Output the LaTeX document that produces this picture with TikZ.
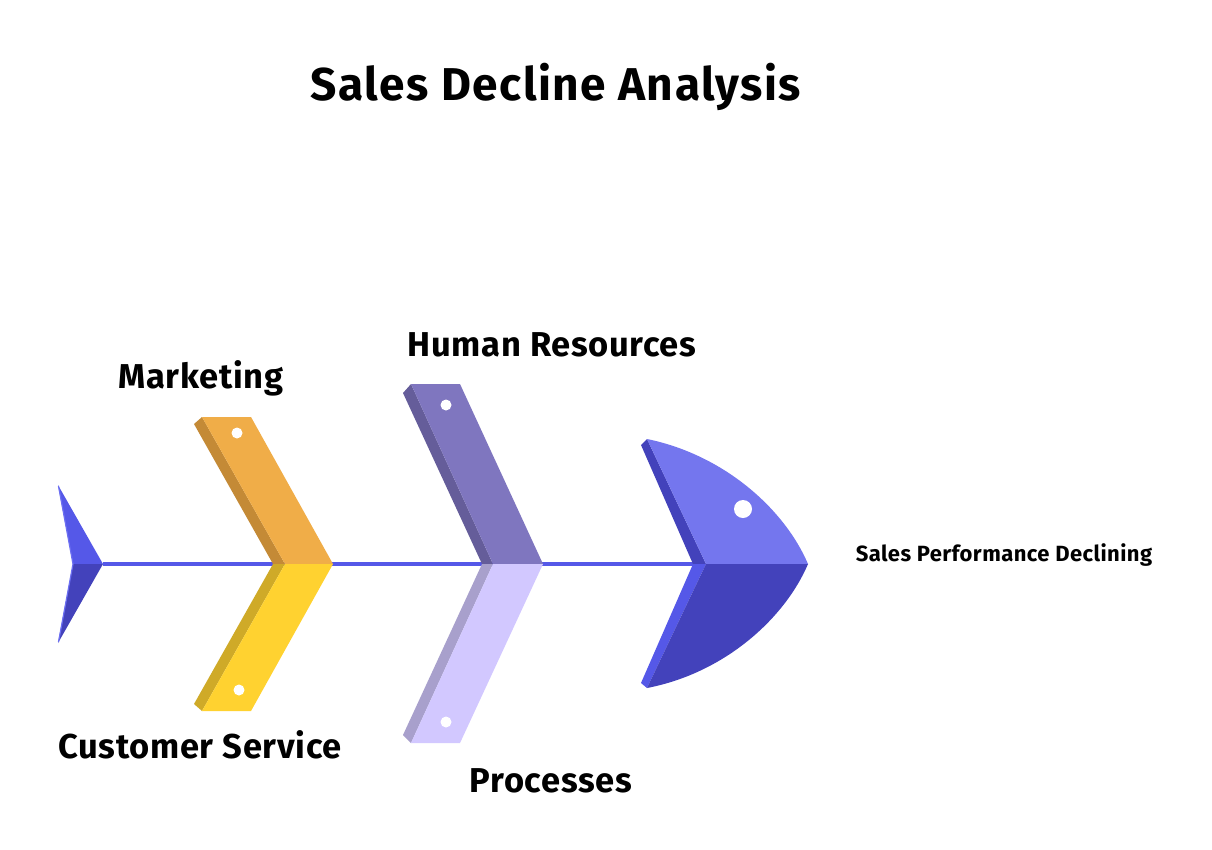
\documentclass[tikz,border=0pt]{standalone}
\usepackage{fontspec}
\setmainfont{Fira Sans}[LetterSpace=2]
\definecolor{spinec}{HTML}{5558E8}
\definecolor{headup}{HTML}{7476EE}
\definecolor{headdn}{HTML}{4342BB}
\definecolor{orgface}{HTML}{F0AD48}
\definecolor{orgside}{HTML}{C48A36}
\definecolor{yelface}{HTML}{FFD230}
\definecolor{yelside}{HTML}{CFAA28}
\definecolor{purface}{HTML}{7F76BF}
\definecolor{purside}{HTML}{655D9A}
\definecolor{lavface}{HTML}{D2C8FF}
\definecolor{lavside}{HTML}{A8A0CC}
\definecolor{tailedge}{HTML}{6C6FF2}
\begin{document}
\begin{tikzpicture}[x=1pt,y=-1pt,
  lbl/.style={font=\bfseries\fontsize{34.5}{38}\selectfont, anchor=base, inner sep=0pt, text=black},
  titlestyle/.style={font=\bfseries\fontsize{46}{50}\selectfont\addfontfeature{LetterSpace=3.2}, anchor=base, inner sep=0pt, text=black},
  effectstyle/.style={font=\bfseries\fontsize{22}{25}\selectfont, anchor=base, inner sep=0pt, text=black},
  hole/.style={fill=white, draw=none}]
\useasboundingbox[fill=white] (0,0) rectangle (1212,849);

% spine
\coordinate (tailR) at (103,564);
\coordinate (headN) at (700,564);
\draw[spinec, line width=4.5pt] (tailR) -- (headN);

% tail
\fill[spinec] (58,485) -- (103,564) -- (73,564) -- cycle;
\fill[headdn] (73,564) -- (103,564) -- (58,643) -- cycle;
\draw[tailedge, line width=1.2pt] (58.5,486) -- (73,564) -- (58.5,642);

% Marketing bone (orange)
\fill[orgside] (202,417) -- (194,424) -- (273,564) -- (285,564) -- cycle;
\fill[orgface] (202,417) -- (251,417) -- (333,564) -- (285,564) -- cycle;
\fill[hole] (237,433) circle[radius=5.5pt];

% Customer Service bone (yellow)
\fill[yelside] (273,564) -- (285,564) -- (202,711) -- (194,704) -- cycle;
\fill[yelface] (285,564) -- (333,564) -- (251,711) -- (202,711) -- cycle;
\fill[hole] (239,690) circle[radius=5.5pt];

% Human Resources bone (purple)
\fill[purside] (411,384) -- (403,393) -- (482,564) -- (493,564) -- cycle;
\fill[purface] (411,384) -- (460,384) -- (543,564) -- (493,564) -- cycle;
\fill[hole] (446,405) circle[radius=5.5pt];

% Processes bone (lavender)
\fill[lavside] (482,564) -- (493,564) -- (411,743) -- (403,735) -- cycle;
\fill[lavface] (493,564) -- (543,564) -- (460,743) -- (411,743) -- cycle;
\fill[hole] (446,722) circle[radius=5.5pt];

% head
\fill[headdn] (641,445) -- (647,439) -- (706,564) -- (693,564) -- cycle;
\fill[spinec] (693,564) -- (706,564) -- (647,688) -- (641,683) -- cycle;
\fill[headup] (647,439) .. controls (725,455) and (785,510) .. (808,564) -- (706,564) -- cycle;
\fill[headdn] (706,564) -- (808,564) .. controls (785,618) and (725,673) .. (647,688) -- cycle;
\fill[hole] (743,509) circle[radius=9pt];

% texts
\node[titlestyle] (title) at (556,100) {Sales Decline Analysis};
\node[lbl] (mkt) at (201,388) {Marketing};
\node[lbl] (hr) at (552,356) {Human Resources};
\node[lbl] (cs) at (200,758) {Customer Service};
\node[lbl] (proc) at (551,792) {Processes};
\node[effectstyle] (effect) at (1004,561) {Sales Performance Declining};
\end{tikzpicture}
\end{document}
